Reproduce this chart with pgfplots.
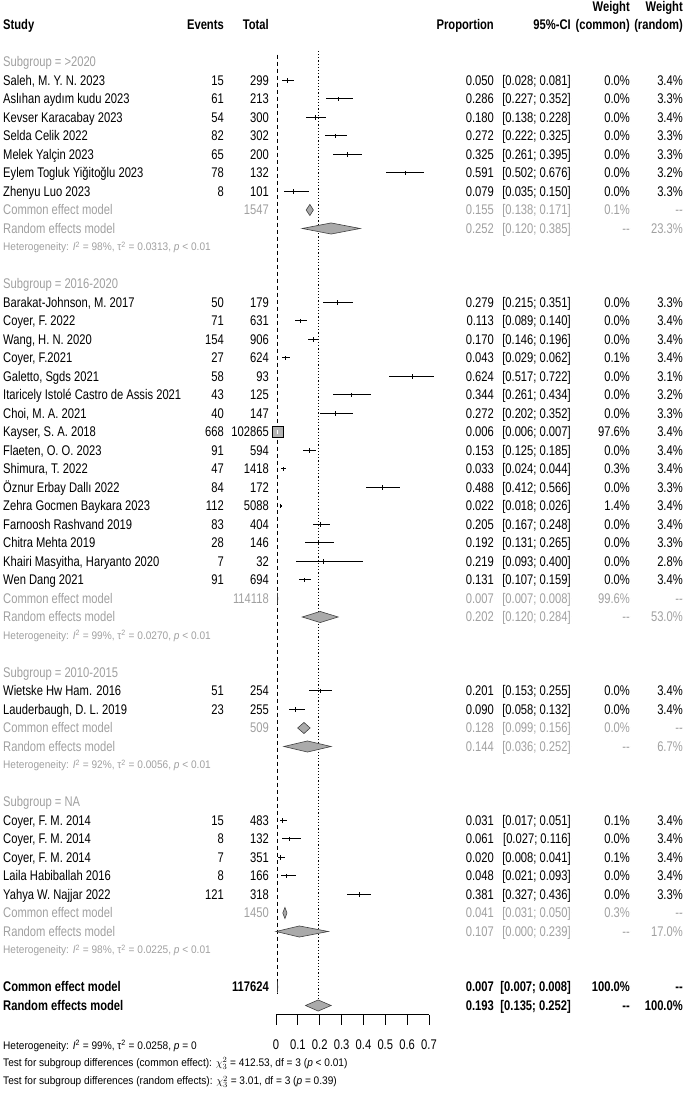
\documentclass[border=0pt]{standalone}
\usepackage{pgfplots}
\pgfplotsset{compat=1.18}
\usepackage{pgfplotstable}
\usepackage{fontspec}
\setmainfont{Liberation Sans}[FakeStretch=0.8]
\newfontfamily\hetfont{Liberation Sans}[FakeStretch=0.92]

\definecolor{txtgray}{RGB}{160,160,160}
\definecolor{dmgray}{RGB}{170,170,170}
\definecolor{sqgray}{RGB}{180,180,180}

% single studies: row, proportion, CI, events, total, weights
\pgfplotstableread[col sep=semicolon]{
r;est;lo;hi;ev;tot;wc;wr;study
3;0.050;0.028;0.081;15;299;0.0;3.4;Saleh, M. Y. N. 2023
4;0.286;0.227;0.352;61;213;0.0;3.3;Aslıhan aydım kudu 2023
5;0.180;0.138;0.228;54;300;0.0;3.4;Kevser Karacabay 2023
6;0.272;0.222;0.325;82;302;0.0;3.3;Selda Celik 2022
7;0.325;0.261;0.395;65;200;0.0;3.3;Melek Yalçin 2023
8;0.591;0.502;0.676;78;132;0.0;3.2;Eylem Togluk Yiğitoğlu 2023
9;0.079;0.035;0.150;8;101;0.0;3.3;Zhenyu Luo 2023
15;0.279;0.215;0.351;50;179;0.0;3.3;Barakat-Johnson, M. 2017
16;0.113;0.089;0.140;71;631;0.0;3.4;Coyer, F. 2022
17;0.170;0.146;0.196;154;906;0.0;3.4;Wang, H. N. 2020
18;0.043;0.029;0.062;27;624;0.1;3.4;Coyer, F.2021
19;0.624;0.517;0.722;58;93;0.0;3.1;Galetto, Sgds 2021
20;0.344;0.261;0.434;43;125;0.0;3.2;Itaricely Istolé Castro de Assis 2021
21;0.272;0.202;0.352;40;147;0.0;3.3;Choi, M. A. 2021
22;0.006;0.006;0.007;668;102865;97.6;3.4;Kayser, S. A. 2018
23;0.153;0.125;0.185;91;594;0.0;3.4;Flaeten, O. O. 2023
24;0.033;0.024;0.044;47;1418;0.3;3.4;Shimura, T. 2022
25;0.488;0.412;0.566;84;172;0.0;3.3;Öznur Erbay Dallı 2022
26;0.022;0.018;0.026;112;5088;1.4;3.4;Zehra Gocmen Baykara 2023
27;0.205;0.167;0.248;83;404;0.0;3.4;Farnoosh Rashvand 2019
28;0.192;0.131;0.265;28;146;0.0;3.3;Chitra Mehta 2019
29;0.219;0.093;0.400;7;32;0.0;2.8;Khairi Masyitha, Haryanto 2020
30;0.131;0.107;0.159;91;694;0.0;3.4;Wen Dang 2021
36;0.201;0.153;0.255;51;254;0.0;3.4;Wietske Hw Ham. 2016
37;0.090;0.058;0.132;23;255;0.0;3.4;Lauderbaugh, D. L. 2019
43;0.031;0.017;0.051;15;483;0.1;3.4;Coyer, F. M. 2014
44;0.061;0.027;0.116;8;132;0.0;3.4;Coyer, F. M. 2014
45;0.020;0.008;0.041;7;351;0.1;3.4;Coyer, F. M. 2014
46;0.048;0.021;0.093;8;166;0.0;3.4;Laila Habiballah 2016
47;0.381;0.327;0.436;121;318;0.0;3.3;Yahya W. Najjar 2022
}\studies

% subgroup summaries
\pgfplotstableread[col sep=semicolon]{
r;est;lo;hi;tot;wc
10;0.155;0.138;0.171;1547;0.1
31;0.007;0.007;0.008;114118;99.6
38;0.128;0.099;0.156;509;0.0
48;0.041;0.031;0.050;1450;0.3
}\commons
\pgfplotstableread[col sep=semicolon]{
r;est;lo;hi;wr
11;0.252;0.120;0.385;23.3
32;0.202;0.120;0.284;53.0
39;0.144;0.036;0.252;6.7
49;0.107;0.000;0.239;17.0
}\randoms

% overall
\pgfplotstableread[col sep=semicolon]{
r;est;lo;hi;tot;wc
52;0.007;0.007;0.008;117624;100.0
}\allcommon
\pgfplotstableread[col sep=semicolon]{
r;est;lo;hi;wr
53;0.193;0.135;0.252;100.0
}\allrandom

\newcommand{\pn}[1]{\pgfmathprintnumber[fixed,fixed zerofill,precision=3]{#1}}
\newcommand{\cival}{[\pgfplotspointmeta; \pn{\vHi}]}

\pgfplotsset{
  lbl/.style n args={3}{only marks, mark=*, mark size=0bp,
    mark options={draw=none, fill=none},
    scatter/use mapped color={draw=none, fill=none},
    nodes near coords={#3},
    every node near coord/.append style={anchor=#1, inner sep=0pt, yshift=-5bp, text=#2}},
  sym/.style={point meta=explicit symbolic},
  ci/.style={point meta=explicit symbolic, visualization depends on={\thisrow{hi}\as\vHi}},
  dia/.style={fill=dmgray, draw=black!75, line width=0.6bp},
}

\begin{document}
\fontsize{14bp}{16bp}\selectfont
\begin{tikzpicture}[tx/.style={inner sep=0pt, yshift=-5bp}, ht/.style={inner sep=0pt, yshift=-4bp, font=\hetfont\fontsize{11bp}{13bp}\selectfont}]
\begin{axis}[
  x=218.6bp, y=18.5bp,
  xmin=0, xmax=0.7, ymin=-53.5, ymax=-1.4,
  axis x line*=bottom, axis y line=none,
  x axis line style={-, line width=0.8bp},
  xtick={0,0.1,0.2,0.3,0.4,0.5,0.6,0.7},
  tick align=outside, major tick length=10bp,
  tick style={black, line width=0.8bp},
  xticklabel style={yshift=-10bp},
  /pgf/number format/assume math mode=true,
  clip=false,
]
% reference lines
\addplot[black, line width=0.6bp, dash pattern=on 4bp off 3bp] coordinates {(0.007,-1.6) (0.007,-52.4)};
\addplot[black, line width=0.6bp, dash pattern=on 1.2bp off 2bp] coordinates {(0.193,-1.4) (0.193,-53)};

% diamonds
\addplot[dia] coordinates {(0.138,-10) (0.155,-9.7) (0.171,-10) (0.155,-10.3)} --cycle;
\addplot[dia] coordinates {(0.120,-11) (0.252,-10.7) (0.385,-11) (0.252,-11.3)} --cycle;
\addplot[dia] coordinates {(0.007,-31) (0.007,-30.7) (0.008,-31) (0.007,-31.3)} --cycle;
\addplot[dia] coordinates {(0.120,-32) (0.202,-31.7) (0.284,-32) (0.202,-32.3)} --cycle;
\addplot[dia] coordinates {(0.099,-38) (0.128,-37.7) (0.156,-38) (0.128,-38.3)} --cycle;
\addplot[dia] coordinates {(0.036,-39) (0.144,-38.7) (0.252,-39) (0.144,-39.3)} --cycle;
\addplot[dia] coordinates {(0.031,-48) (0.041,-47.7) (0.050,-48) (0.041,-48.3)} --cycle;
\addplot[dia] coordinates {(0.000,-49) (0.107,-48.7) (0.239,-49) (0.107,-49.3)} --cycle;
\addplot[dia] coordinates {(0.007,-52) (0.007,-51.7) (0.008,-52) (0.007,-52.3)} --cycle;
\addplot[dia] coordinates {(0.135,-53) (0.193,-52.7) (0.252,-53) (0.193,-53.3)} --cycle;

% confidence intervals and squares
\addplot[black, only marks, mark=|, mark size=2.2bp, mark options={line width=0.8bp},
  error bars/.cd, x dir=both, x explicit, error mark=none, error bar style={line width=1bp, black}]
  table[x=est, y expr=-\thisrow{r}, x error plus expr=\thisrow{hi}-\thisrow{est}, x error minus expr=\thisrow{est}-\thisrow{lo}] {\studies};
\addplot[only marks, mark=square*, scatter, scatter/use mapped color={draw=none, fill=sqgray},
  visualization depends on={0.56*sqrt(\thisrow{wc}) \as \vSq},
  scatter/@pre marker code/.append style={/tikz/mark size=\vSq bp}]
  table[x=est, y expr=-\thisrow{r}] {\studies};
\addplot[white, only marks, mark=|, mark size=2.2bp, mark options={line width=0.8bp}] coordinates {(0.006,-22)};

% study columns
\addplot[lbl={base west}{black}{\pgfplotspointmeta}, sym] table[x expr=-1.2489, y expr=-\thisrow{r}, meta=study] {\studies};
\addplot[lbl={base east}{black}{\pgfplotspointmeta}, sym] table[x expr=-0.2379, y expr=-\thisrow{r}, meta=ev] {\studies};
\addplot[lbl={base east}{black}{\pgfplotspointmeta}, sym] table[x expr=-0.032, y expr=-\thisrow{r}, meta=tot] {\studies};
\addplot[lbl={base east}{black}{\pgfplotspointmeta}, sym] table[x expr=0.9973, y expr=-\thisrow{r}, meta=est] {\studies};
\addplot[lbl={base east}{black}{\cival}, ci] table[x expr=1.3495, y expr=-\thisrow{r}, meta=lo] {\studies};
\addplot[lbl={base east}{black}{\pgfplotspointmeta\%}, sym] table[x expr=1.6194, y expr=-\thisrow{r}, meta=wc] {\studies};
\addplot[lbl={base east}{black}{\pgfplotspointmeta\%}, sym] table[x expr=1.8618, y expr=-\thisrow{r}, meta=wr] {\studies};

% subgroup common effect rows
\addplot[lbl={base west}{txtgray}{Common effect model}] table[x expr=-1.2489, y expr=-\thisrow{r}] {\commons};
\addplot[lbl={base east}{txtgray}{\pgfplotspointmeta}, sym] table[x expr=-0.032, y expr=-\thisrow{r}, meta=tot] {\commons};
\addplot[lbl={base east}{txtgray}{\pgfplotspointmeta}, sym] table[x expr=0.9973, y expr=-\thisrow{r}, meta=est] {\commons};
\addplot[lbl={base east}{txtgray}{\cival}, ci] table[x expr=1.3495, y expr=-\thisrow{r}, meta=lo] {\commons};
\addplot[lbl={base east}{txtgray}{\pgfplotspointmeta\%}, sym] table[x expr=1.6194, y expr=-\thisrow{r}, meta=wc] {\commons};
\addplot[lbl={base east}{txtgray}{-{}-}] table[x expr=1.8618, y expr=-\thisrow{r}] {\commons};

% subgroup random effects rows
\addplot[lbl={base west}{txtgray}{Random effects model}] table[x expr=-1.2489, y expr=-\thisrow{r}] {\randoms};
\addplot[lbl={base east}{txtgray}{\pgfplotspointmeta}, sym] table[x expr=0.9973, y expr=-\thisrow{r}, meta=est] {\randoms};
\addplot[lbl={base east}{txtgray}{\cival}, ci] table[x expr=1.3495, y expr=-\thisrow{r}, meta=lo] {\randoms};
\addplot[lbl={base east}{txtgray}{-{}-}] table[x expr=1.6194, y expr=-\thisrow{r}] {\randoms};
\addplot[lbl={base east}{txtgray}{\pgfplotspointmeta\%}, sym] table[x expr=1.8618, y expr=-\thisrow{r}, meta=wr] {\randoms};

% overall rows
\addplot[lbl={base west}{black}{\bfseries Common effect model}] table[x expr=-1.2489, y expr=-\thisrow{r}] {\allcommon};
\addplot[lbl={base east}{black}{\bfseries\pgfplotspointmeta}, sym] table[x expr=-0.032, y expr=-\thisrow{r}, meta=tot] {\allcommon};
\addplot[lbl={base east}{black}{\bfseries\pgfplotspointmeta}, sym] table[x expr=0.9973, y expr=-\thisrow{r}, meta=est] {\allcommon};
\addplot[lbl={base east}{black}{\bfseries\cival}, ci] table[x expr=1.3495, y expr=-\thisrow{r}, meta=lo] {\allcommon};
\addplot[lbl={base east}{black}{\bfseries\pgfplotspointmeta\%}, sym] table[x expr=1.6194, y expr=-\thisrow{r}, meta=wc] {\allcommon};
\addplot[lbl={base east}{black}{\bfseries-{}-}] table[x expr=1.8618, y expr=-\thisrow{r}] {\allcommon};
\addplot[lbl={base west}{black}{\bfseries Random effects model}] table[x expr=-1.2489, y expr=-\thisrow{r}] {\allrandom};
\addplot[lbl={base east}{black}{\bfseries\pgfplotspointmeta}, sym] table[x expr=0.9973, y expr=-\thisrow{r}, meta=est] {\allrandom};
\addplot[lbl={base east}{black}{\bfseries\cival}, ci] table[x expr=1.3495, y expr=-\thisrow{r}, meta=lo] {\allrandom};
\addplot[lbl={base east}{black}{\bfseries-{}-}] table[x expr=1.6194, y expr=-\thisrow{r}] {\allrandom};
\addplot[lbl={base east}{black}{\bfseries\pgfplotspointmeta\%}, sym] table[x expr=1.8618, y expr=-\thisrow{r}, meta=wr] {\allrandom};

% headers
\node[tx, anchor=base west, font=\bfseries] at (axis cs:-1.2489,0) {Study};
\node[tx, anchor=base east, font=\bfseries] at (axis cs:-0.2379,0) {Events};
\node[tx, anchor=base east, font=\bfseries] at (axis cs:-0.032,0) {Total};
\node[tx, anchor=base east, font=\bfseries] at (axis cs:0.9973,0) {Proportion};
\node[tx, anchor=base east, font=\bfseries] at (axis cs:1.3495,0) {95\%-CI};
\node[tx, anchor=base east, font=\bfseries] at (axis cs:1.6194,1) {Weight};
\node[tx, anchor=base east, font=\bfseries] at (axis cs:1.6194,0) {(common)};
\node[tx, anchor=base east, font=\bfseries] at (axis cs:1.8618,1) {Weight};
\node[tx, anchor=base east, font=\bfseries] at (axis cs:1.8618,0) {(random)};

% subgroup labels
\node[tx, anchor=base west, text=txtgray] at (axis cs:-1.2489,-2) {Subgroup = >2020};
\node[tx, anchor=base west, text=txtgray] at (axis cs:-1.2489,-14) {Subgroup = 2016-2020};
\node[tx, anchor=base west, text=txtgray] at (axis cs:-1.2489,-35) {Subgroup = 2010-2015};
\node[tx, anchor=base west, text=txtgray] at (axis cs:-1.2489,-42) {Subgroup = NA};

% heterogeneity
\node[ht, anchor=base west, text=txtgray] at (axis cs:-1.2489,-12) {Heterogeneity: \textit{I}\textsuperscript{2} = 98\%, τ\textsuperscript{2} = 0.0313, \textit{p} < 0.01};
\node[ht, anchor=base west, text=txtgray] at (axis cs:-1.2489,-33) {Heterogeneity: \textit{I}\textsuperscript{2} = 99\%, τ\textsuperscript{2} = 0.0270, \textit{p} < 0.01};
\node[ht, anchor=base west, text=txtgray] at (axis cs:-1.2489,-40) {Heterogeneity: \textit{I}\textsuperscript{2} = 92\%, τ\textsuperscript{2} = 0.0056, \textit{p} < 0.01};
\node[ht, anchor=base west, text=txtgray] at (axis cs:-1.2489,-50) {Heterogeneity: \textit{I}\textsuperscript{2} = 98\%, τ\textsuperscript{2} = 0.0225, \textit{p} < 0.01};
\node[ht, anchor=base west] at (axis cs:-1.2489,-55.14) {Heterogeneity: \textit{I}\textsuperscript{2} = 99\%, τ\textsuperscript{2} = 0.0258, \textit{p} = 0};
\node[ht, anchor=base west] at (axis cs:-1.2489,-56.1) {Test for subgroup differences (common effect): $\chi^2_3$ = 412.53, df = 3 (\textit{p} < 0.01)};
\node[ht, anchor=base west] at (axis cs:-1.2489,-57.08) {Test for subgroup differences (random effects): $\chi^2_3$ = 3.01, df = 3 (\textit{p} = 0.39)};

% page frame
\path (axis cs:-1.2626,1.351) rectangle (axis cs:1.871,-57.73);
\end{axis}
\end{tikzpicture}
\end{document}
